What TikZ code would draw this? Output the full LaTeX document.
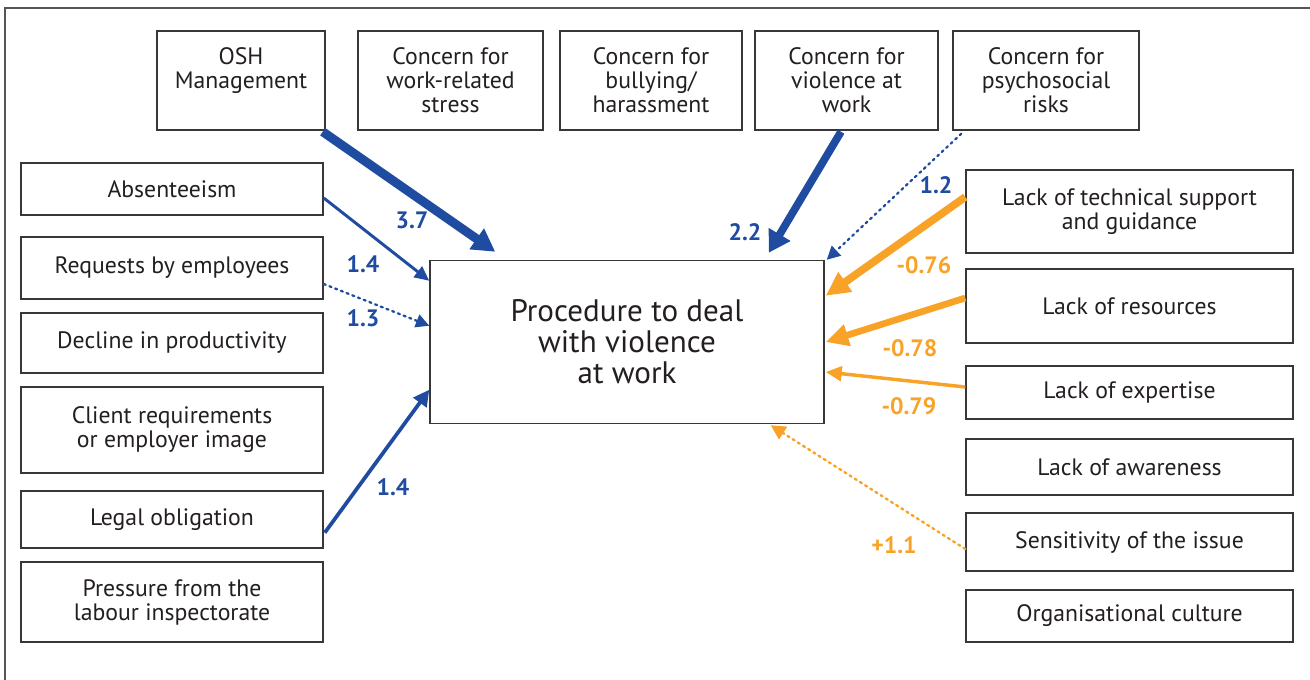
\documentclass[tikz,border=0pt]{standalone}
\usepackage{fontspec}
\setmainfont{PT Sans}
\usetikzlibrary{arrows.meta,calc}

\definecolor{boxline}{RGB}{55,55,55}
\definecolor{framegray}{RGB}{85,85,85}
\definecolor{txtgray}{RGB}{35,31,32}
\definecolor{posblue}{RGB}{31,75,160}
\definecolor{negorange}{RGB}{248,163,40}

\tikzset{every picture/.style={line width=0.75pt}}
\tikzset{
  factor/.style 2 args={draw=boxline, line width=1.1pt, fill=white, align=center, text=txtgray,
    inner sep=0pt, minimum width=#1*0.75pt, minimum height=#2*0.75pt,
    font=\fontsize{17.8}{18}\selectfont},
  weight/.style={font=\bfseries\fontsize{17.8}{18}\selectfont},
  posarr/.style={draw=posblue},
  negarr/.style={draw=negorange},
  dots/.style={dash pattern=on 1.6pt off 3pt, line cap=round}
}

\begin{document}
\begin{tikzpicture}[x=0.75pt,y=0.75pt,yscale=-1,xscale=1]
	\useasboundingbox (0,0) rectangle (1310,680);
	%Frame
	\draw [framegray, line width=1.5pt] (1310,8) -- (5,8) -- (5,680);

	%Top row
	\node [factor={168}{99}] (osh) at (241,80.5) {OSH\\Management\\~};
	\node [factor={185}{99}] (stress) at (450.5,80.5) {Concern for\\work-related\\stress};
	\node [factor={182}{99}] (bully) at (651,80.5) {Concern for\\bullying/\\harassment};
	\node [factor={183}{99}] (viol) at (846.5,80.5) {Concern for\\violence at\\work};
	\node [factor={186}{99}] (psy) at (1046,80.5) {Concern for\\psychosocial\\risks};

	%Left column
	\node [factor={302}{52}] (absent) at (172,189) {Absenteeism};
	\node [factor={302}{62}] (requests) at (172,268) {Requests by employees};
	\node [factor={302}{60}] (decline) at (172,343) {Decline in productivity};
	\node [factor={302}{86}] (client) at (172,430) {Client requirements\\or employer image};
	\node [factor={302}{57}] (legal) at (172,519.5) {Legal obligation};
	\node [factor={302}{80}] (pressure) at (172,602) {Pressure from the\\labour inspectorate};

	%Right column
	\node [factor={327}{83}] (tech) at (1129.5,211.5) {Lack of technical support\\and guidance};
	\node [factor={327}{74}] (res) at (1129.5,306) {Lack of resources};
	\node [factor={327}{53}] (expert) at (1129.5,392.5) {Lack of expertise};
	\node [factor={327}{56}] (aware) at (1129.5,467) {Lack of awareness};
	\node [factor={327}{58}] (sens) at (1129.5,542) {Sensitivity of the issue};
	\node [factor={327}{52}] (culture) at (1129.5,616) {Organisational culture};

	%Centre
	\node [factor={394}{163}, font=\fontsize{23.3}{23.25}\selectfont] (proc) at (627,342) {Procedure to deal\\with violence\\at work};

	%Positive effects
	\draw [posarr, line width=6.75pt, -{Triangle[length=17pt,width=18pt]}] ($(osh.south east)+(-3,1)$) -- ($(proc.north west)+(66,-8)$);
	\draw [posarr, line width=2.2pt, -{Triangle[length=11pt,width=10pt]}] ($(absent.east)+(0,9)$) -- ($(proc.north west)+(0,21)$);
	\draw [posarr, dots, line width=1.7pt, -{Triangle[length=10pt,width=10pt]}] ($(requests.east)+(0,16)$) -- ($(proc.north west)+(0,66)$);
	\draw [posarr, line width=2.8pt, -{Triangle[length=12pt,width=12pt]}] ($(legal.south east)+(1,-16)$) -- ($(proc.north west)+(0,130)$);
	\draw [posarr, line width=5.8pt, -{Triangle[length=16pt,width=18pt]}] ($(viol.south)+(-5.5,1)$) -- ($(proc.north east)+(-56,-7)$);
	\draw [posarr, dots, line width=1.7pt, -{Triangle[length=10pt,width=10pt]}] ($(psy.south west)+(9,3)$) -- ($(proc.north east)+(2,0)$);

	%Negative effects
	\draw [negarr, line width=5.8pt, -{Triangle[length=18pt,width=17pt]}] ($(tech.west)+(0,-14.5)$) -- ($(proc.north east)+(1,36)$);
	\draw [negarr, line width=5pt, -{Triangle[length=17pt,width=16pt]}] ($(res.west)+(0,-8)$) -- ($(proc.east)+(1,0)$);
	\draw [negarr, line width=2.6pt, -{Triangle[length=12pt,width=11pt]}] ($(expert.west)+(0,-5.5)$) -- ($(proc.east)+(1,30)$);
	\draw [negarr, dots, line width=1.8pt, -{Triangle[length=11pt,width=11pt]}] ($(sens.west)+(0,7)$) -- ($(proc.south east)+(-54,1)$);

	% Text Node
	\node [weight, text=posblue] (w37) at (412,220) {3.7};
	\node [weight, text=posblue] (w14a) at (363,264) {1.4};
	\node [weight, text=posblue] (w13) at (363,318) {1.3};
	\node [weight, text=posblue] (w14b) at (393,487) {1.4};
	\node [weight, text=posblue] (w22) at (745,232) {2.2};
	\node [weight, text=posblue] (w12) at (936,185) {1.2};
	\node [weight, text=negorange] (w076) at (924,265) {-0.76};
	\node [weight, text=negorange] (w078) at (910,348) {-0.78};
	\node [weight, text=negorange] (w079) at (909,406) {-0.79};
	\node [weight, text=negorange] (w11) at (894,545) {+1.1};
\end{tikzpicture}
\end{document}
